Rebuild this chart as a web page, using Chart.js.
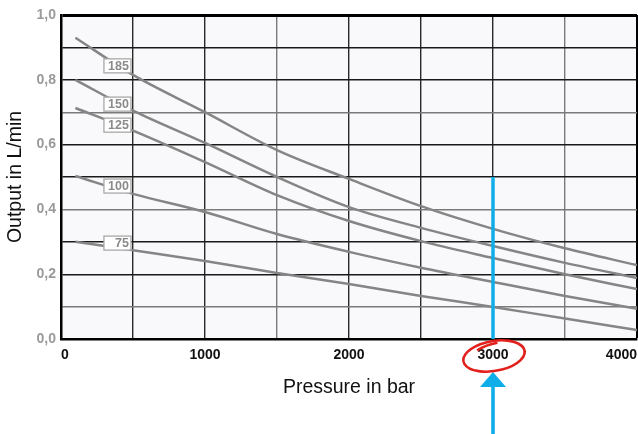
<!DOCTYPE html>
<html>
<head>
<meta charset="utf-8">
<script src="https://cdn.jsdelivr.net/npm/chart.js@4.4.1/dist/chart.umd.min.js"></script>
<style>
  html, body { margin: 0; padding: 0; background: #fff; }
  #wrap { width: 638px; height: 434px; }
</style>
</head>
<body>
<div id="wrap"><canvas id="chart" width="638" height="434"></canvas></div>
<script>
// pressure values (bar) where the curves were read
const pressure = [100, 500, 1000, 1500, 2000, 2500, 3000, 3500, 4000];

// output (L/min) per nozzle size
const curveNames = ['185', '150', '125', '100', '75'];
const out185 = [0.93, 0.815, 0.70, 0.583, 0.494, 0.41, 0.34, 0.28, 0.228];
const out150 = [0.80, 0.705, 0.605, 0.50, 0.407, 0.343, 0.287, 0.235, 0.188];
const out125 = [0.713, 0.643, 0.546, 0.444, 0.364, 0.302, 0.25, 0.2, 0.154];
const out100 = [0.503, 0.448, 0.392, 0.324, 0.269, 0.22, 0.176, 0.133, 0.093];
const out75  = [0.30, 0.274, 0.241, 0.204, 0.17, 0.133, 0.099, 0.063, 0.028];
const curves = [out185, out150, out125, out100, out75];

// where the little name boxes sit (data units)
const labelX = 392;
const labelY = [0.843, 0.725, 0.66, 0.472, 0.296];

// marked working pressure
const markPressure = 3000;
const markTop = 0.5;

const FONT = '"Liberation Sans", Arial, Helvetica, sans-serif';

function pts(vals) {
    return pressure.map((p, i) => ({ x: p, y: vals[i] }));
}

const datasets = [{
    label: 'mark',
    data: [{ x: markPressure, y: markTop }, { x: markPressure, y: 0 }],
    borderColor: '#10aee8',
    borderWidth: 3.5,
    pointRadius: 0,
    order: -1
}];
curves.forEach((c, i) => {
    datasets.push({
        label: curveNames[i],
        data: pts(c),
        borderColor: '#858585',
        borderWidth: 2.5,
        pointRadius: 0,
        tension: 0.35,
        cubicInterpolationMode: 'monotone',
        order: 1
    });
});

const areaBg = {
    id: 'areaBg',
    beforeDraw(chart) {
        const a = chart.chartArea;
        const ctx = chart.ctx;
        ctx.save();
        ctx.fillStyle = '#f9f9fb';
        ctx.fillRect(a.left, a.top, a.right - a.left, a.bottom - a.top);
        ctx.restore();
    }
};

const curveLabels = {
    id: 'curveLabels',
    afterDatasetsDraw(chart) {
        const ctx = chart.ctx;
        const xs = chart.scales.x, ys = chart.scales.y;
        ctx.save();
        curveNames.forEach((name, i) => {
            const cx = xs.getPixelForValue(labelX);
            const cy = ys.getPixelForValue(labelY[i]);
            const w = 27, h = 14;
            ctx.fillStyle = '#ffffff';
            ctx.fillRect(cx - w / 2, cy - h / 2, w, h);
            ctx.strokeStyle = '#a8a8a8';
            ctx.lineWidth = 1.3;
            ctx.strokeRect(cx - w / 2, cy - h / 2, w, h);
            ctx.fillStyle = '#8a8a8a';
            ctx.font = 'bold 12.5px ' + FONT;
            ctx.textBaseline = 'middle';
            ctx.textAlign = 'right';
            ctx.fillText(name, cx + w / 2 - 2, cy + 0.5);
        });
        ctx.restore();
    }
};

const annotations = {
    id: 'annotations',
    afterDraw(chart) {
        const ctx = chart.ctx;
        const xs = chart.scales.x;
        const px = xs.getPixelForValue(markPressure);
        const base = chart.chartArea.bottom;
        ctx.save();
        // blue arrow from below
        ctx.fillStyle = '#10aee8';
        ctx.beginPath();
        ctx.moveTo(px, base + 33);
        ctx.lineTo(px + 13, base + 48);
        ctx.lineTo(px - 13, base + 48);
        ctx.closePath();
        ctx.fill();
        ctx.fillRect(px - 1.8, base + 47, 3.6, 60);
        // red hand drawn ring around the tick label
        ctx.strokeStyle = '#e3211c';
        ctx.lineWidth = 2.6;
        ctx.beginPath();
        ctx.ellipse(px + 1, base + 17, 31, 15, -0.17, -1.75, -1.75 + Math.PI * 2);
        ctx.stroke();
        ctx.beginPath();
        ctx.ellipse(px + 1, base + 18, 28, 13, -0.3, -2.1, -1.3);
        ctx.stroke();
        ctx.restore();
    }
};

function yGridColor(c) {
    const v = Math.round(c.tick.value * 10);
    if (v === 10 || v === 0) return '#000';
    return v % 3 === 1 ? '#7a7a7a' : '#1a1a1a';
}
function xGridColor(c) {
    const v = c.tick.value;
    if (v === 4000 || v === 0) return '#000';
    return (v === 1500 || v === 3500) ? '#7a7a7a' : '#2a2a2a';
}

new Chart(document.getElementById('chart').getContext('2d'), {
    type: 'line',
    data: { datasets: datasets },
    plugins: [areaBg, curveLabels, annotations],
    options: {
        responsive: false,
        animation: false,
        events: [],
        layout: { padding: { top: 15, right: 1, left: 0, bottom: 0 } },
        plugins: { legend: { display: false }, tooltip: { enabled: false } },
        scales: {
            x: {
                type: 'linear',
                min: 0,
                max: 4000,
                afterFit(scale) {
                    scale.height = 95;
                    scale.paddingLeft = 0;
                    scale.paddingRight = 0;
                },
                border: { display: true, color: '#000', width: 2.5 },
                grid: {
                    drawTicks: false,
                    color: xGridColor,
                    lineWidth: c => c.tick.value === 4000 ? 3 : 1.4
                },
                ticks: {
                    stepSize: 500,
                    padding: 8,
                    align: 'inner',
                    maxRotation: 0,
                    autoSkip: false,
                    color: '#111',
                    font: { family: FONT, size: 14, weight: 'bold' },
                    callback: v => v % 1000 === 0 ? String(v) : ''
                },
                title: {
                    display: true,
                    text: 'Pressure in bar',
                    color: '#111',
                    font: { family: FONT, size: 19.5 },
                    padding: { top: 4, bottom: 35 }
                }
            },
            y: {
                min: 0,
                max: 1,
                afterFit(scale) { scale.width = 61; },
                border: { display: true, color: '#000', width: 2.5 },
                grid: {
                    drawTicks: false,
                    color: yGridColor,
                    lineWidth: c => Math.round(c.tick.value * 10) === 10 ? 3 : 1.4
                },
                ticks: {
                    stepSize: 0.1,
                    padding: 5,
                    autoSkip: false,
                    color: '#9a9a9a',
                    font: { family: FONT, size: 14, weight: 'bold' },
                    callback: v => Math.round(v * 10) % 2 === 0 ? v.toFixed(1).replace('.', ',') : ''
                },
                title: {
                    display: true,
                    text: 'Output in L/min',
                    color: '#111',
                    font: { family: FONT, size: 19.5 },
                    padding: { top: 4, bottom: 0 }
                }
            }
        }
    }
});
</script>
</body>
</html>
